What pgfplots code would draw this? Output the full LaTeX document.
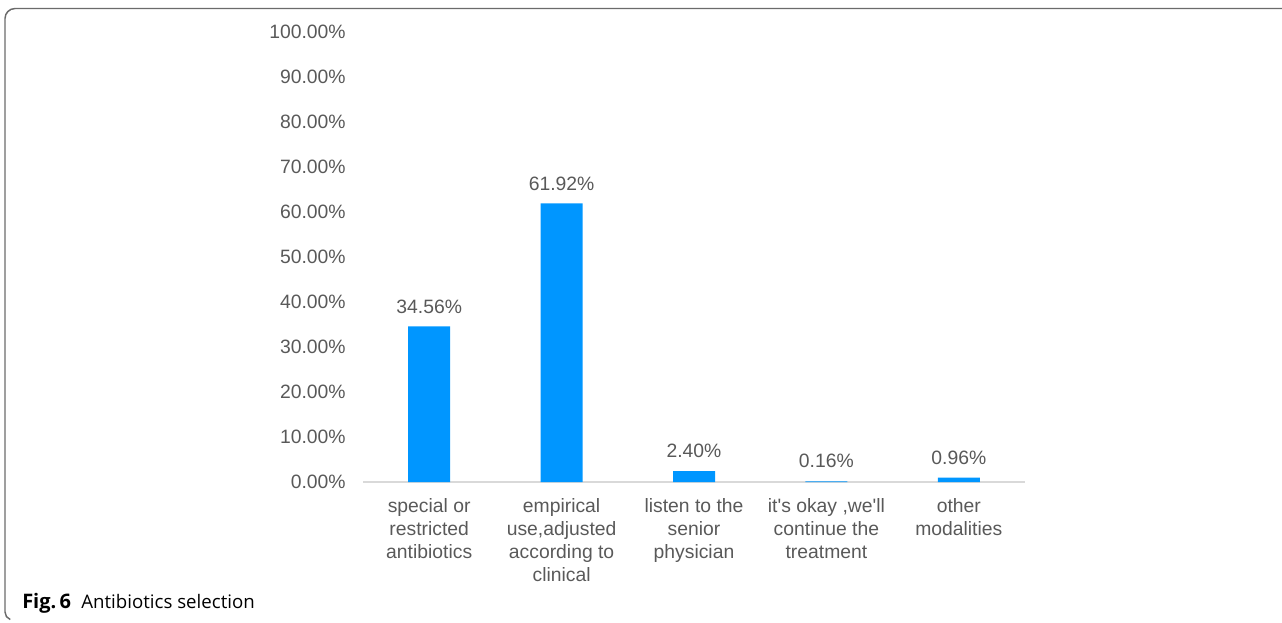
\documentclass[border=0pt]{standalone}
\usepackage{pgfplots}
\pgfplotsset{compat=1.18}
\usepackage{fontspec}
\setmainfont{Liberation Sans}
\newfontfamily\capfont{Open Sans}
\definecolor{barblue}{HTML}{0096FF}
\definecolor{txtgrey}{HTML}{595959}
\definecolor{axgrey}{HTML}{D9D9D9}
\definecolor{framegrey}{HTML}{6B6B6B}
\begin{document}
\begin{tikzpicture}
\path[use as bounding box] (0pt,0pt) rectangle (961.5pt,-466.5pt);
\draw[framegrey, line width=1.1pt] (961.5pt,-6.375pt) -- (11.25pt,-6.375pt)
  arc[start angle=90, end angle=180, radius=7.5pt] -- (3.75pt,-459pt)
  arc[start angle=180, end angle=250, radius=6pt];
\node[anchor=base west, inner sep=0pt, text=black] at (16.5pt,-456.5pt)
  {\capfont\fontsize{14}{16}\selectfont{\fontsize{15}{16}\selectfont\textbf{Fig.\,6}}\hspace{0.55em}Antibiotics selection};
\begin{axis}[
  at={(272.25pt,-361.5pt)}, anchor=south west,
  scale only axis, width=496.5pt, height=337.5pt,
  xmin=-0.5, xmax=4.5, ymin=0, ymax=100,
  axis x line*=bottom, axis y line*=left,
  x axis line style={axgrey, line width=1pt, -},
  y axis line style={draw=none, -},
  xtick={0,1,2,3,4}, major tick length=0pt,
  xticklabels={{special or\\restricted\\antibiotics}, {empirical\\use,adjusted\\according to\\clinical}, {listen to the\\senior\\physician}, {it\textquotesingle s okay ,we\textquotesingle ll\\continue the\\treatment}, {other\\modalities}},
  xticklabel style={align=center, text=txtgrey, font=\fontsize{14.5}{17.25}\selectfont, anchor=north, yshift=-8.5pt},
  ytick={0,10,20,30,40,50,60,70,80,90,100},
  yticklabels={0.00\%,10.00\%,20.00\%,30.00\%,40.00\%,50.00\%,60.00\%,70.00\%,80.00\%,90.00\%,100.00\%},
  yticklabel style={text=txtgrey, font=\fontsize{14.5}{17.25}\selectfont, anchor=east, xshift=-9.5pt},
  tick style={draw=none},
  ybar, bar width=31.5pt,
  clip=false,
  nodes near coords={\pgfmathprintnumber[fixed,fixed zerofill,precision=2]{\pgfplotspointmeta}\%},
  nodes near coords style={text=txtgrey, font=\fontsize{14.5}{17.25}\selectfont, anchor=base, yshift=10pt},
  /pgf/number format/assume math mode=true,
]
\addplot[fill=barblue, draw=none] coordinates {(0,34.56) (1,61.92) (2,2.40) (3,0.16) (4,0.96)};
\end{axis}
\end{tikzpicture}
\end{document}
